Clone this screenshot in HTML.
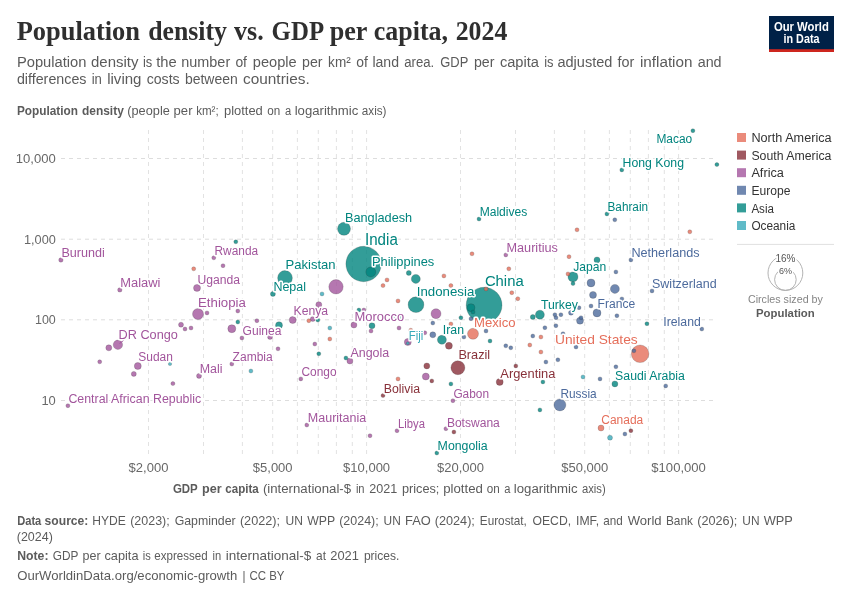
<!DOCTYPE html>
<html lang="en"><head><meta charset="utf-8">
<title>Population density vs. GDP per capita, 2024</title>
<style>
html,body{margin:0;padding:0;background:#fff;}
body{width:850px;height:600px;overflow:hidden;}
svg{display:block;font-family:"Liberation Sans",sans-serif;}
.title{font-family:"Liberation Serif","DejaVu Serif",serif;font-weight:bold;font-size:26.5px;fill:#2f2f2f;}
.sub{font-size:14px;fill:#5b5b5b;}
.ax{font-size:12.5px;fill:#5b5b5b;}
.tick{font-size:13.4px;fill:#686868;}
.foot{font-size:13px;fill:#5b5b5b;}
.b{font-weight:bold;}
.grid{stroke:#ddd;stroke-width:1;stroke-dasharray:4,4;fill:none;}
.lab{paint-order:stroke;stroke:#fff;stroke-width:3px;stroke-linejoin:round;}
.leg{font-size:12px;fill:#333;}
</style></head><body>
<svg width="850" height="600" viewBox="0 0 850 600">
<rect width="850" height="600" fill="#fff"/>
<text class="title" y="40"><tspan x="16.7" textLength="123.3" lengthAdjust="spacingAndGlyphs">Population</tspan> <tspan x="148.2" textLength="78.8" lengthAdjust="spacingAndGlyphs">density</tspan> <tspan x="234.1" textLength="29.7" lengthAdjust="spacingAndGlyphs">vs.</tspan> <tspan x="271.6" textLength="51.1" lengthAdjust="spacingAndGlyphs">GDP</tspan> <tspan x="329.7" textLength="37.3" lengthAdjust="spacingAndGlyphs">per</tspan> <tspan x="373.8" textLength="74.2" lengthAdjust="spacingAndGlyphs">capita,</tspan> <tspan x="455.7" textLength="51.6" lengthAdjust="spacingAndGlyphs">2024</tspan></text>
<text class="sub" y="66.5"><tspan x="16.9" textLength="69.6" lengthAdjust="spacingAndGlyphs">Population</tspan> <tspan x="91.0" textLength="47.4" lengthAdjust="spacingAndGlyphs">density</tspan> <tspan x="143.0" textLength="9.3" lengthAdjust="spacingAndGlyphs">is</tspan> <tspan x="156.2" textLength="20.5" lengthAdjust="spacingAndGlyphs">the</tspan> <tspan x="181.3" textLength="48.9" lengthAdjust="spacingAndGlyphs">number</tspan> <tspan x="235.4" textLength="11.6" lengthAdjust="spacingAndGlyphs">of</tspan> <tspan x="252.8" textLength="43.8" lengthAdjust="spacingAndGlyphs">people</tspan> <tspan x="302.1" textLength="20.5" lengthAdjust="spacingAndGlyphs">per</tspan> <tspan x="328.1" textLength="22.6" lengthAdjust="spacingAndGlyphs">km²</tspan> <tspan x="356.2" textLength="11.6" lengthAdjust="spacingAndGlyphs">of</tspan> <tspan x="372.4" textLength="26.6" lengthAdjust="spacingAndGlyphs">land</tspan> <tspan x="404.2" textLength="30.0" lengthAdjust="spacingAndGlyphs">area.</tspan> <tspan x="440.3" textLength="27.8" lengthAdjust="spacingAndGlyphs">GDP</tspan> <tspan x="473.9" textLength="20.5" lengthAdjust="spacingAndGlyphs">per</tspan> <tspan x="499.9" textLength="39.1" lengthAdjust="spacingAndGlyphs">capita</tspan> <tspan x="544.2" textLength="9.3" lengthAdjust="spacingAndGlyphs">is</tspan> <tspan x="557.4" textLength="55.0" lengthAdjust="spacingAndGlyphs">adjusted</tspan> <tspan x="617.6" textLength="16.8" lengthAdjust="spacingAndGlyphs">for</tspan> <tspan x="639.9" textLength="52.6" lengthAdjust="spacingAndGlyphs">inflation</tspan> <tspan x="697.7" textLength="23.9" lengthAdjust="spacingAndGlyphs">and</tspan></text>
<text class="sub" y="84.4"><tspan x="16.9" textLength="69.6" lengthAdjust="spacingAndGlyphs">differences</tspan> <tspan x="91.7" textLength="10.2" lengthAdjust="spacingAndGlyphs">in</tspan> <tspan x="107.2" textLength="34.3" lengthAdjust="spacingAndGlyphs">living</tspan> <tspan x="146.7" textLength="33.0" lengthAdjust="spacingAndGlyphs">costs</tspan> <tspan x="184.9" textLength="52.9" lengthAdjust="spacingAndGlyphs">between</tspan> <tspan x="243.0" textLength="66.7" lengthAdjust="spacingAndGlyphs">countries.</tspan></text>
<text class="ax" y="114.6"><tspan class="b" x="16.9" textLength="61.0" lengthAdjust="spacingAndGlyphs">Population</tspan> <tspan class="b" x="82.0" textLength="41.8" lengthAdjust="spacingAndGlyphs">density</tspan> <tspan x="127.3" textLength="42.5" lengthAdjust="spacingAndGlyphs">(people</tspan> <tspan x="173.6" textLength="18.9" lengthAdjust="spacingAndGlyphs">per</tspan> <tspan x="196.2" textLength="22.5" lengthAdjust="spacingAndGlyphs">km²;</tspan> <tspan x="224.0" textLength="38.8" lengthAdjust="spacingAndGlyphs">plotted</tspan> <tspan x="267.3" textLength="13.0" lengthAdjust="spacingAndGlyphs">on</tspan> <tspan x="285.0" textLength="6.2" lengthAdjust="spacingAndGlyphs">a</tspan> <tspan x="294.7" textLength="63.6" lengthAdjust="spacingAndGlyphs">logarithmic</tspan> <tspan x="361.8" textLength="24.7" lengthAdjust="spacingAndGlyphs">axis)</tspan></text>
<rect x="769" y="16" width="65" height="36" fill="#002147"/>
<rect x="769" y="49.2" width="65" height="2.8" fill="#CE261E"/>
<text x="801.4" y="30.6" text-anchor="middle" font-size="12.2" font-weight="bold" fill="#fff" textLength="55" lengthAdjust="spacingAndGlyphs">Our World</text>
<text x="801.5" y="42.6" text-anchor="middle" font-size="12.2" font-weight="bold" fill="#fff" textLength="36" lengthAdjust="spacingAndGlyphs">in Data</text>
<g class="grid">
<line x1="61" y1="158.5" x2="717" y2="158.5"/>
<line x1="61" y1="239.2" x2="717" y2="239.2"/>
<line x1="61" y1="319.8" x2="717" y2="319.8"/>
<line x1="61" y1="400.5" x2="717" y2="400.5"/>
<line x1="148.5" y1="130" x2="148.5" y2="454" stroke="#e2e2e2"/>
<line x1="203.5" y1="130" x2="203.5" y2="454" stroke="#e2e2e2"/>
<line x1="242.4" y1="130" x2="242.4" y2="454" stroke="#e2e2e2"/>
<line x1="272.7" y1="130" x2="272.7" y2="454" stroke="#e2e2e2"/>
<line x1="297.4" y1="130" x2="297.4" y2="454" stroke="#e2e2e2"/>
<line x1="318.3" y1="130" x2="318.3" y2="454" stroke="#e2e2e2"/>
<line x1="336.4" y1="130" x2="336.4" y2="454" stroke="#e2e2e2"/>
<line x1="352.3" y1="130" x2="352.3" y2="454" stroke="#e2e2e2"/>
<line x1="366.6" y1="130" x2="366.6" y2="454" stroke="#e2e2e2"/>
<line x1="460.5" y1="130" x2="460.5" y2="454" stroke="#e2e2e2"/>
<line x1="515.5" y1="130" x2="515.5" y2="454" stroke="#e2e2e2"/>
<line x1="554.4" y1="130" x2="554.4" y2="454" stroke="#e2e2e2"/>
<line x1="584.7" y1="130" x2="584.7" y2="454" stroke="#e2e2e2"/>
<line x1="609.4" y1="130" x2="609.4" y2="454" stroke="#e2e2e2"/>
<line x1="630.3" y1="130" x2="630.3" y2="454" stroke="#e2e2e2"/>
<line x1="648.4" y1="130" x2="648.4" y2="454" stroke="#e2e2e2"/>
<line x1="664.3" y1="130" x2="664.3" y2="454" stroke="#e2e2e2"/>
<line x1="678.6" y1="130" x2="678.6" y2="454" stroke="#e2e2e2"/>
</g>
<text class="tick" x="15.8" y="163.1" textLength="40" lengthAdjust="spacingAndGlyphs">10,000</text>
<text class="tick" x="24.0" y="243.8" textLength="31.8" lengthAdjust="spacingAndGlyphs">1,000</text>
<text class="tick" x="35.0" y="324.4" textLength="20.8" lengthAdjust="spacingAndGlyphs">100</text>
<text class="tick" x="41.4" y="405.1" textLength="14.4" lengthAdjust="spacingAndGlyphs">10</text>
<text class="tick" x="128.6" y="471.7" textLength="39.8" lengthAdjust="spacingAndGlyphs">$2,000</text>
<text class="tick" x="252.8" y="471.7" textLength="39.8" lengthAdjust="spacingAndGlyphs">$5,000</text>
<text class="tick" x="343.1" y="471.7" textLength="47" lengthAdjust="spacingAndGlyphs">$10,000</text>
<text class="tick" x="437.0" y="471.7" textLength="47" lengthAdjust="spacingAndGlyphs">$20,000</text>
<text class="tick" x="561.2" y="471.7" textLength="47" lengthAdjust="spacingAndGlyphs">$50,000</text>
<text class="tick" x="651.3" y="471.7" textLength="54.6" lengthAdjust="spacingAndGlyphs">$100,000</text>
<text class="ax" y="492.8"><tspan class="b" x="172.9" textLength="24.9" lengthAdjust="spacingAndGlyphs">GDP</tspan> <tspan class="b" x="202.0" textLength="19.6" lengthAdjust="spacingAndGlyphs">per</tspan> <tspan class="b" x="225.3" textLength="33.4" lengthAdjust="spacingAndGlyphs">capita</tspan> <tspan x="262.9" textLength="88.2" lengthAdjust="spacingAndGlyphs">(international-$</tspan> <tspan x="355.9" textLength="8.7" lengthAdjust="spacingAndGlyphs">in</tspan> <tspan x="369.2" textLength="28.0" lengthAdjust="spacingAndGlyphs">2021</tspan> <tspan x="401.9" textLength="37.5" lengthAdjust="spacingAndGlyphs">prices;</tspan> <tspan x="443.2" textLength="39.7" lengthAdjust="spacingAndGlyphs">plotted</tspan> <tspan x="486.8" textLength="13.0" lengthAdjust="spacingAndGlyphs">on</tspan> <tspan x="504.2" textLength="6.2" lengthAdjust="spacingAndGlyphs">a</tspan> <tspan x="513.8" textLength="63.8" lengthAdjust="spacingAndGlyphs">logarithmic</tspan> <tspan x="582.0" textLength="23.7" lengthAdjust="spacingAndGlyphs">axis)</tspan></text>
<g stroke="#2a2a2a" stroke-width="0.6" stroke-opacity="0.32">
<circle cx="484.1" cy="305.2" r="17.9" fill="#00847E" fill-opacity="0.8"/>
<circle cx="363.6" cy="264" r="17.7" fill="#00847E" fill-opacity="0.8"/>
<circle cx="640.1" cy="353.8" r="8.8" fill="#E56E5A" fill-opacity="0.8"/>
<circle cx="416" cy="304.7" r="7.9" fill="#00847E" fill-opacity="0.8"/>
<circle cx="285" cy="277.9" r="7.4" fill="#00847E" fill-opacity="0.8"/>
<circle cx="336" cy="286.8" r="7.2" fill="#A2559C" fill-opacity="0.8"/>
<circle cx="457.9" cy="367.7" r="7" fill="#883039" fill-opacity="0.8"/>
<circle cx="344" cy="228.8" r="6.5" fill="#00847E" fill-opacity="0.8"/>
<circle cx="559.9" cy="404.9" r="6" fill="#4C6A9C" fill-opacity="0.8"/>
<circle cx="198" cy="314" r="5.5" fill="#A2559C" fill-opacity="0.8"/>
<circle cx="473" cy="333.8" r="5.5" fill="#E56E5A" fill-opacity="0.8"/>
<circle cx="436" cy="313.7" r="5" fill="#A2559C" fill-opacity="0.8"/>
<circle cx="370.8" cy="272" r="5" fill="#00847E" fill-opacity="0.8"/>
<circle cx="573" cy="276.9" r="5" fill="#00847E" fill-opacity="0.8"/>
<circle cx="117.9" cy="344.8" r="4.7" fill="#A2559C" fill-opacity="0.8"/>
<circle cx="415.8" cy="278.9" r="4.5" fill="#00847E" fill-opacity="0.8"/>
<circle cx="539.9" cy="314.7" r="4.5" fill="#00847E" fill-opacity="0.8"/>
<circle cx="441.9" cy="339.8" r="4.5" fill="#00847E" fill-opacity="0.8"/>
<circle cx="614.9" cy="288.9" r="4.5" fill="#4C6A9C" fill-opacity="0.8"/>
<circle cx="231.8" cy="328.7" r="4" fill="#A2559C" fill-opacity="0.8"/>
<circle cx="471" cy="307.7" r="4" fill="#00847E" fill-opacity="0.8"/>
<circle cx="591" cy="282.9" r="4" fill="#4C6A9C" fill-opacity="0.8"/>
<circle cx="597" cy="312.9" r="4" fill="#4C6A9C" fill-opacity="0.8"/>
<circle cx="197" cy="287.9" r="3.5" fill="#A2559C" fill-opacity="0.8"/>
<circle cx="137.8" cy="366" r="3.5" fill="#A2559C" fill-opacity="0.8"/>
<circle cx="292.7" cy="320" r="3.5" fill="#A2559C" fill-opacity="0.8"/>
<circle cx="407.8" cy="342" r="3.5" fill="#A2559C" fill-opacity="0.8"/>
<circle cx="425.8" cy="376.5" r="3.5" fill="#A2559C" fill-opacity="0.8"/>
<circle cx="279" cy="325.2" r="3.5" fill="#00847E" fill-opacity="0.8"/>
<circle cx="448.9" cy="345.8" r="3.5" fill="#883039" fill-opacity="0.8"/>
<circle cx="499.7" cy="381.9" r="3.5" fill="#883039" fill-opacity="0.8"/>
<circle cx="593" cy="294.9" r="3.5" fill="#4C6A9C" fill-opacity="0.8"/>
<circle cx="580" cy="320.7" r="3.5" fill="#4C6A9C" fill-opacity="0.8"/>
<circle cx="108.8" cy="347.8" r="3" fill="#A2559C" fill-opacity="0.8"/>
<circle cx="318.8" cy="304.7" r="3" fill="#A2559C" fill-opacity="0.8"/>
<circle cx="353.9" cy="325" r="3" fill="#A2559C" fill-opacity="0.8"/>
<circle cx="349.9" cy="361" r="3" fill="#A2559C" fill-opacity="0.8"/>
<circle cx="372" cy="325.7" r="3" fill="#00847E" fill-opacity="0.8"/>
<circle cx="597" cy="259.9" r="3" fill="#00847E" fill-opacity="0.8"/>
<circle cx="614.9" cy="383.9" r="3" fill="#00847E" fill-opacity="0.8"/>
<circle cx="601" cy="428" r="3" fill="#E56E5A" fill-opacity="0.8"/>
<circle cx="426.8" cy="365.9" r="3" fill="#883039" fill-opacity="0.8"/>
<circle cx="432.8" cy="334.8" r="3" fill="#4C6A9C" fill-opacity="0.8"/>
<circle cx="181" cy="324.7" r="2.5" fill="#A2559C" fill-opacity="0.8"/>
<circle cx="133.8" cy="373.9" r="2.5" fill="#A2559C" fill-opacity="0.8"/>
<circle cx="199" cy="375.9" r="2.5" fill="#A2559C" fill-opacity="0.8"/>
<circle cx="270" cy="336.9" r="2.5" fill="#A2559C" fill-opacity="0.8"/>
<circle cx="312.8" cy="319" r="2.5" fill="#A2559C" fill-opacity="0.8"/>
<circle cx="272.9" cy="293.9" r="2.5" fill="#00847E" fill-opacity="0.8"/>
<circle cx="408.8" cy="272.9" r="2.5" fill="#00847E" fill-opacity="0.8"/>
<circle cx="532.8" cy="317" r="2.5" fill="#00847E" fill-opacity="0.8"/>
<circle cx="571" cy="312.7" r="2.5" fill="#4C6A9C" fill-opacity="0.8"/>
<circle cx="610" cy="437.7" r="2.5" fill="#38AABA" fill-opacity="0.8"/>
<circle cx="60.9" cy="260" r="2.2" fill="#A2559C" fill-opacity="0.8"/>
<circle cx="119.8" cy="289.9" r="2.2" fill="#A2559C" fill-opacity="0.8"/>
<circle cx="207" cy="312.9" r="2.0" fill="#A2559C" fill-opacity="0.8"/>
<circle cx="185" cy="329" r="2.0" fill="#A2559C" fill-opacity="0.8"/>
<circle cx="191" cy="328" r="2.0" fill="#A2559C" fill-opacity="0.8"/>
<circle cx="99.7" cy="361.8" r="2.0" fill="#A2559C" fill-opacity="0.8"/>
<circle cx="213.8" cy="257.8" r="2.0" fill="#A2559C" fill-opacity="0.8"/>
<circle cx="223" cy="265.7" r="2.0" fill="#A2559C" fill-opacity="0.8"/>
<circle cx="67.9" cy="405.7" r="2.0" fill="#A2559C" fill-opacity="0.8"/>
<circle cx="172.9" cy="383.6" r="2.0" fill="#A2559C" fill-opacity="0.8"/>
<circle cx="237.8" cy="311" r="2.0" fill="#A2559C" fill-opacity="0.8"/>
<circle cx="256.9" cy="320.7" r="2.0" fill="#A2559C" fill-opacity="0.8"/>
<circle cx="241.9" cy="338" r="2.0" fill="#A2559C" fill-opacity="0.8"/>
<circle cx="363.9" cy="310" r="2.0" fill="#A2559C" fill-opacity="0.8"/>
<circle cx="371" cy="331" r="2.0" fill="#A2559C" fill-opacity="0.8"/>
<circle cx="399" cy="328" r="2.0" fill="#A2559C" fill-opacity="0.8"/>
<circle cx="314.8" cy="344" r="2.0" fill="#A2559C" fill-opacity="0.8"/>
<circle cx="278" cy="348.8" r="2.0" fill="#A2559C" fill-opacity="0.8"/>
<circle cx="231.8" cy="364" r="2.0" fill="#A2559C" fill-opacity="0.8"/>
<circle cx="300.8" cy="378.9" r="2.0" fill="#A2559C" fill-opacity="0.8"/>
<circle cx="306.8" cy="425" r="2.0" fill="#A2559C" fill-opacity="0.8"/>
<circle cx="370" cy="435.7" r="2.0" fill="#A2559C" fill-opacity="0.8"/>
<circle cx="397" cy="430.7" r="2.0" fill="#A2559C" fill-opacity="0.8"/>
<circle cx="505.8" cy="254.9" r="2.0" fill="#A2559C" fill-opacity="0.8"/>
<circle cx="424.8" cy="332.8" r="2.0" fill="#A2559C" fill-opacity="0.8"/>
<circle cx="452.9" cy="400.7" r="2.0" fill="#A2559C" fill-opacity="0.8"/>
<circle cx="445.9" cy="428.7" r="2.0" fill="#A2559C" fill-opacity="0.8"/>
<circle cx="235.8" cy="241.8" r="2.0" fill="#00847E" fill-opacity="0.8"/>
<circle cx="237.8" cy="322" r="2.0" fill="#00847E" fill-opacity="0.8"/>
<circle cx="317.8" cy="320" r="2.0" fill="#00847E" fill-opacity="0.8"/>
<circle cx="358.9" cy="310" r="2.0" fill="#00847E" fill-opacity="0.8"/>
<circle cx="318.8" cy="353.8" r="2.0" fill="#00847E" fill-opacity="0.8"/>
<circle cx="345.9" cy="358" r="2.0" fill="#00847E" fill-opacity="0.8"/>
<circle cx="479" cy="219" r="2.0" fill="#00847E" fill-opacity="0.8"/>
<circle cx="606.9" cy="213.9" r="2.0" fill="#00847E" fill-opacity="0.8"/>
<circle cx="573" cy="283.6" r="2.0" fill="#00847E" fill-opacity="0.8"/>
<circle cx="473" cy="312" r="2.0" fill="#00847E" fill-opacity="0.8"/>
<circle cx="460.9" cy="317.7" r="2.0" fill="#00847E" fill-opacity="0.8"/>
<circle cx="490" cy="341" r="2.0" fill="#00847E" fill-opacity="0.8"/>
<circle cx="450.9" cy="383.9" r="2.0" fill="#00847E" fill-opacity="0.8"/>
<circle cx="542.9" cy="381.9" r="2.0" fill="#00847E" fill-opacity="0.8"/>
<circle cx="539.9" cy="409.9" r="2.0" fill="#00847E" fill-opacity="0.8"/>
<circle cx="436.8" cy="453" r="2.0" fill="#00847E" fill-opacity="0.8"/>
<circle cx="692.9" cy="130.7" r="2.0" fill="#00847E" fill-opacity="0.8"/>
<circle cx="716.9" cy="164.6" r="2.0" fill="#00847E" fill-opacity="0.8"/>
<circle cx="621.8" cy="169.9" r="2.0" fill="#00847E" fill-opacity="0.8"/>
<circle cx="646.9" cy="323.7" r="2.0" fill="#00847E" fill-opacity="0.8"/>
<circle cx="193.7" cy="268.8" r="2.0" fill="#E56E5A" fill-opacity="0.8"/>
<circle cx="387" cy="279.9" r="2.0" fill="#E56E5A" fill-opacity="0.8"/>
<circle cx="383" cy="285.6" r="2.0" fill="#E56E5A" fill-opacity="0.8"/>
<circle cx="398" cy="300.9" r="2.0" fill="#E56E5A" fill-opacity="0.8"/>
<circle cx="308.8" cy="320.7" r="2.0" fill="#E56E5A" fill-opacity="0.8"/>
<circle cx="329.8" cy="339" r="2.0" fill="#E56E5A" fill-opacity="0.8"/>
<circle cx="398" cy="378.9" r="2.0" fill="#E56E5A" fill-opacity="0.8"/>
<circle cx="577" cy="229.8" r="2.0" fill="#E56E5A" fill-opacity="0.8"/>
<circle cx="472" cy="253.8" r="2.0" fill="#E56E5A" fill-opacity="0.8"/>
<circle cx="569" cy="256.7" r="2.0" fill="#E56E5A" fill-opacity="0.8"/>
<circle cx="508.8" cy="268.8" r="2.0" fill="#E56E5A" fill-opacity="0.8"/>
<circle cx="443.9" cy="275.9" r="2.0" fill="#E56E5A" fill-opacity="0.8"/>
<circle cx="450.9" cy="285.6" r="2.0" fill="#E56E5A" fill-opacity="0.8"/>
<circle cx="486" cy="288.9" r="2.0" fill="#E56E5A" fill-opacity="0.8"/>
<circle cx="511.8" cy="292.7" r="2.0" fill="#E56E5A" fill-opacity="0.8"/>
<circle cx="517.8" cy="298.7" r="2.0" fill="#E56E5A" fill-opacity="0.8"/>
<circle cx="568" cy="273.9" r="2.0" fill="#E56E5A" fill-opacity="0.8"/>
<circle cx="450.9" cy="324" r="2.0" fill="#E56E5A" fill-opacity="0.8"/>
<circle cx="540.9" cy="337" r="2.0" fill="#E56E5A" fill-opacity="0.8"/>
<circle cx="529.8" cy="345" r="2.0" fill="#E56E5A" fill-opacity="0.8"/>
<circle cx="540.9" cy="352" r="2.0" fill="#E56E5A" fill-opacity="0.8"/>
<circle cx="689.8" cy="231.8" r="2.0" fill="#E56E5A" fill-opacity="0.8"/>
<circle cx="410.8" cy="330.2" r="2" fill="#E56E5A" fill-opacity="0.8"/>
<circle cx="383" cy="395.6" r="2.0" fill="#883039" fill-opacity="0.8"/>
<circle cx="515.8" cy="365.9" r="2.0" fill="#883039" fill-opacity="0.8"/>
<circle cx="431.8" cy="380.9" r="2.0" fill="#883039" fill-opacity="0.8"/>
<circle cx="453.9" cy="432" r="2.0" fill="#883039" fill-opacity="0.8"/>
<circle cx="630.9" cy="430.7" r="2.0" fill="#883039" fill-opacity="0.8"/>
<circle cx="554.9" cy="314.7" r="2.0" fill="#4C6A9C" fill-opacity="0.8"/>
<circle cx="560.9" cy="314.7" r="2.0" fill="#4C6A9C" fill-opacity="0.8"/>
<circle cx="556" cy="317.7" r="2.0" fill="#4C6A9C" fill-opacity="0.8"/>
<circle cx="579" cy="307.7" r="2.0" fill="#4C6A9C" fill-opacity="0.8"/>
<circle cx="591" cy="306" r="2.0" fill="#4C6A9C" fill-opacity="0.8"/>
<circle cx="581" cy="317.7" r="2.0" fill="#4C6A9C" fill-opacity="0.8"/>
<circle cx="544.9" cy="327.7" r="2.0" fill="#4C6A9C" fill-opacity="0.8"/>
<circle cx="555.9" cy="325.7" r="2.0" fill="#4C6A9C" fill-opacity="0.8"/>
<circle cx="532.8" cy="336" r="2.0" fill="#4C6A9C" fill-opacity="0.8"/>
<circle cx="505.8" cy="345.8" r="2.0" fill="#4C6A9C" fill-opacity="0.8"/>
<circle cx="510.8" cy="347.8" r="2.0" fill="#4C6A9C" fill-opacity="0.8"/>
<circle cx="545.9" cy="362" r="2.0" fill="#4C6A9C" fill-opacity="0.8"/>
<circle cx="557.9" cy="359.8" r="2.0" fill="#4C6A9C" fill-opacity="0.8"/>
<circle cx="576" cy="347" r="2.0" fill="#4C6A9C" fill-opacity="0.8"/>
<circle cx="563" cy="333.7" r="2.0" fill="#4C6A9C" fill-opacity="0.8"/>
<circle cx="471" cy="318.7" r="2.0" fill="#4C6A9C" fill-opacity="0.8"/>
<circle cx="432.8" cy="323" r="2.0" fill="#4C6A9C" fill-opacity="0.8"/>
<circle cx="486" cy="331" r="2.0" fill="#4C6A9C" fill-opacity="0.8"/>
<circle cx="463.9" cy="337" r="2.0" fill="#4C6A9C" fill-opacity="0.8"/>
<circle cx="600" cy="378.9" r="2.0" fill="#4C6A9C" fill-opacity="0.8"/>
<circle cx="614.8" cy="219.8" r="2.0" fill="#4C6A9C" fill-opacity="0.8"/>
<circle cx="630.9" cy="259.9" r="2.0" fill="#4C6A9C" fill-opacity="0.8"/>
<circle cx="615.9" cy="271.9" r="2.0" fill="#4C6A9C" fill-opacity="0.8"/>
<circle cx="621.9" cy="298.9" r="2.0" fill="#4C6A9C" fill-opacity="0.8"/>
<circle cx="616.9" cy="315.7" r="2.0" fill="#4C6A9C" fill-opacity="0.8"/>
<circle cx="652" cy="290.9" r="2.0" fill="#4C6A9C" fill-opacity="0.8"/>
<circle cx="701.8" cy="329" r="2.0" fill="#4C6A9C" fill-opacity="0.8"/>
<circle cx="633.9" cy="350.8" r="2.0" fill="#4C6A9C" fill-opacity="0.8"/>
<circle cx="615.9" cy="366.8" r="2.0" fill="#4C6A9C" fill-opacity="0.8"/>
<circle cx="665.7" cy="385.9" r="2.0" fill="#4C6A9C" fill-opacity="0.8"/>
<circle cx="624.9" cy="434" r="2.0" fill="#4C6A9C" fill-opacity="0.8"/>
<circle cx="322" cy="293.9" r="2.0" fill="#38AABA" fill-opacity="0.8"/>
<circle cx="329.8" cy="328" r="2.0" fill="#38AABA" fill-opacity="0.8"/>
<circle cx="250.9" cy="371" r="2.0" fill="#38AABA" fill-opacity="0.8"/>
<circle cx="583" cy="376.9" r="2.0" fill="#38AABA" fill-opacity="0.8"/>
<circle cx="395.4" cy="317.5" r="1.8" fill="#00847E" fill-opacity="0.8"/>
<circle cx="400.8" cy="317.5" r="1.8" fill="#00847E" fill-opacity="0.8"/>
<circle cx="170" cy="363.9" r="1.7" fill="#38AABA" fill-opacity="0.8"/>
<circle cx="692.3" cy="286" r="1.5" fill="#00847E" fill-opacity="0.8"/>
<circle cx="407.8" cy="343.2" r="1.5" fill="#38AABA" fill-opacity="0.8"/>
</g>
<line x1="119.6" y1="343.4" x2="123.6" y2="340.4" stroke="#A2559C" stroke-width="1"/>
<g class="labs">
<text class="lab" x="61.4" y="256.7" font-size="12" fill="#A2559C" textLength="43.4" lengthAdjust="spacingAndGlyphs">Burundi</text>
<text class="lab" x="120.3" y="286.7" font-size="12" fill="#A2559C" textLength="40.1" lengthAdjust="spacingAndGlyphs">Malawi</text>
<text class="lab" x="118.5" y="338.9" font-size="12.5" fill="#A2559C" textLength="59.4" lengthAdjust="spacingAndGlyphs">DR Congo</text>
<text class="lab" x="138.3" y="361.2" font-size="12.0" fill="#A2559C" textLength="34.6" lengthAdjust="spacingAndGlyphs">Sudan</text>
<text class="lab" x="68.4" y="403.2" font-size="12" fill="#A2559C" textLength="132.8" lengthAdjust="spacingAndGlyphs">Central African Republic</text>
<text class="lab" x="214.5" y="255.0" font-size="12" fill="#A2559C" textLength="43.6" lengthAdjust="spacingAndGlyphs">Rwanda</text>
<text class="lab" x="197.5" y="284.1" font-size="12.0" fill="#A2559C" textLength="42.6" lengthAdjust="spacingAndGlyphs">Uganda</text>
<text class="lab" x="198.0" y="307.3" font-size="12.5" fill="#A2559C" textLength="47.9" lengthAdjust="spacingAndGlyphs">Ethiopia</text>
<text class="lab" x="293.5" y="315.3" font-size="12.0" fill="#A2559C" textLength="34.6" lengthAdjust="spacingAndGlyphs">Kenya</text>
<text class="lab" x="354.6" y="321.0" font-size="12.0" fill="#A2559C" textLength="49.6" lengthAdjust="spacingAndGlyphs">Morocco</text>
<text class="lab" x="242.6" y="335.0" font-size="12" fill="#A2559C" textLength="38.8" lengthAdjust="spacingAndGlyphs">Guinea</text>
<text class="lab" x="232.6" y="360.9" font-size="12.0" fill="#A2559C" textLength="40.1" lengthAdjust="spacingAndGlyphs">Zambia</text>
<text class="lab" x="350.4" y="356.6" font-size="12.0" fill="#A2559C" textLength="38.8" lengthAdjust="spacingAndGlyphs">Angola</text>
<text class="lab" x="301.5" y="376.3" font-size="12.0" fill="#A2559C" textLength="35.1" lengthAdjust="spacingAndGlyphs">Congo</text>
<text class="lab" x="199.7" y="372.6" font-size="12.0" fill="#A2559C" textLength="22.8" lengthAdjust="spacingAndGlyphs">Mali</text>
<text class="lab" x="307.8" y="422.0" font-size="12" fill="#A2559C" textLength="58.4" lengthAdjust="spacingAndGlyphs">Mauritania</text>
<text class="lab" x="398.0" y="428.0" font-size="12.0" fill="#A2559C" textLength="27.0" lengthAdjust="spacingAndGlyphs">Libya</text>
<text class="lab" x="506.5" y="252.0" font-size="12" fill="#A2559C" textLength="51.4" lengthAdjust="spacingAndGlyphs">Mauritius</text>
<text class="lab" x="453.4" y="398.2" font-size="12" fill="#A2559C" textLength="35.6" lengthAdjust="spacingAndGlyphs">Gabon</text>
<text class="lab" x="446.9" y="426.6" font-size="12.0" fill="#A2559C" textLength="52.9" lengthAdjust="spacingAndGlyphs">Botswana</text>
<text class="lab" x="344.9" y="221.5" font-size="12.8" fill="#00847E" textLength="67.3" lengthAdjust="spacingAndGlyphs">Bangladesh</text>
<text class="lab" x="365.0" y="244.8" font-size="15.8" fill="#00847E" textLength="32.8" lengthAdjust="spacingAndGlyphs">India</text>
<text class="lab" x="372.0" y="265.7" font-size="12.75" fill="#00847E" textLength="62.3" lengthAdjust="spacingAndGlyphs">Philippines</text>
<text class="lab" x="285.5" y="269.1" font-size="13.5" fill="#00847E" textLength="50.1" lengthAdjust="spacingAndGlyphs">Pakistan</text>
<text class="lab" x="273.4" y="290.5" font-size="12.0" fill="#00847E" textLength="32.6" lengthAdjust="spacingAndGlyphs">Nepal</text>
<text class="lab" x="479.7" y="216.0" font-size="12.0" fill="#00847E" textLength="47.6" lengthAdjust="spacingAndGlyphs">Maldives</text>
<text class="lab" x="573.3" y="270.7" font-size="13.2" fill="#00847E" textLength="33.0" lengthAdjust="spacingAndGlyphs">Japan</text>
<text class="lab" x="484.9" y="285.5" font-size="15.2" fill="#00847E" textLength="38.8" lengthAdjust="spacingAndGlyphs">China</text>
<text class="lab" x="416.8" y="295.8" font-size="13" fill="#00847E" textLength="57.5" lengthAdjust="spacingAndGlyphs">Indonesia</text>
<text class="lab" x="540.9" y="309.2" font-size="12.0" fill="#00847E" textLength="37.1" lengthAdjust="spacingAndGlyphs">Turkey</text>
<text class="lab" x="442.8" y="334.2" font-size="12" fill="#00847E" textLength="21.2" lengthAdjust="spacingAndGlyphs">Iran</text>
<text class="lab" x="437.6" y="450.2" font-size="12" fill="#00847E" textLength="50.1" lengthAdjust="spacingAndGlyphs">Mongolia</text>
<text class="lab" x="656.4" y="143.2" font-size="12.0" fill="#00847E" textLength="35.8" lengthAdjust="spacingAndGlyphs">Macao</text>
<text class="lab" x="622.6" y="167.2" font-size="12.0" fill="#00847E" textLength="61.4" lengthAdjust="spacingAndGlyphs">Hong Kong</text>
<text class="lab" x="607.5" y="211.2" font-size="12" fill="#00847E" textLength="40.6" lengthAdjust="spacingAndGlyphs">Bahrain</text>
<text class="lab" x="615.1" y="380.1" font-size="12.5" fill="#00847E" textLength="69.7" lengthAdjust="spacingAndGlyphs">Saudi Arabia</text>
<text class="lab" x="474" y="327.1" font-size="12" fill="#E56E5A" textLength="41.6" lengthAdjust="spacingAndGlyphs">Mexico</text>
<text class="lab" x="555.0" y="343.7" font-size="13.5" fill="#E56E5A" textLength="82.7" lengthAdjust="spacingAndGlyphs">United States</text>
<text class="lab" x="601.3" y="424.0" font-size="12" fill="#E56E5A" textLength="41.9" lengthAdjust="spacingAndGlyphs">Canada</text>
<text class="lab" x="383.7" y="392.7" font-size="12" fill="#883039" textLength="36.3" lengthAdjust="spacingAndGlyphs">Bolivia</text>
<text class="lab" x="458.4" y="359.1" font-size="13.0" fill="#883039" textLength="31.8" lengthAdjust="spacingAndGlyphs">Brazil</text>
<text class="lab" x="500.3" y="377.7" font-size="12" fill="#883039" textLength="55.1" lengthAdjust="spacingAndGlyphs">Argentina</text>
<text class="lab" x="560.4" y="397.9" font-size="13.0" fill="#4C6A9C" textLength="36.3" lengthAdjust="spacingAndGlyphs">Russia</text>
<text class="lab" x="631.4" y="257.0" font-size="12" fill="#4C6A9C" textLength="68.2" lengthAdjust="spacingAndGlyphs">Netherlands</text>
<text class="lab" x="652.0" y="288.2" font-size="12.0" fill="#4C6A9C" textLength="64.6" lengthAdjust="spacingAndGlyphs">Switzerland</text>
<text class="lab" x="597.6" y="308.0" font-size="12" fill="#4C6A9C" textLength="37.6" lengthAdjust="spacingAndGlyphs">France</text>
<text class="lab" x="663.3" y="326.2" font-size="12.0" fill="#4C6A9C" textLength="37.5" lengthAdjust="spacingAndGlyphs">Ireland</text>
<text class="lab" x="408.8" y="340.0" font-size="12" fill="#38AABA" textLength="14.5" lengthAdjust="spacingAndGlyphs">Fiji</text>
</g>
<rect x="737" y="133.0" width="9" height="9" fill="#E56E5A" fill-opacity="0.8"/>
<text class="leg" x="751.4" y="142.1" textLength="80.2" lengthAdjust="spacingAndGlyphs">North America</text>
<rect x="737" y="150.6" width="9" height="9" fill="#883039" fill-opacity="0.8"/>
<text class="leg" x="751.4" y="159.7" textLength="80.0" lengthAdjust="spacingAndGlyphs">South America</text>
<rect x="737" y="168.2" width="9" height="9" fill="#A2559C" fill-opacity="0.8"/>
<text class="leg" x="751.4" y="177.3" textLength="32.5" lengthAdjust="spacingAndGlyphs">Africa</text>
<rect x="737" y="185.8" width="9" height="9" fill="#4C6A9C" fill-opacity="0.8"/>
<text class="leg" x="751.4" y="194.9" textLength="39" lengthAdjust="spacingAndGlyphs">Europe</text>
<rect x="737" y="203.4" width="9" height="9" fill="#00847E" fill-opacity="0.8"/>
<text class="leg" x="751.4" y="212.5" textLength="22.5" lengthAdjust="spacingAndGlyphs">Asia</text>
<rect x="737" y="221.0" width="9" height="9" fill="#38AABA" fill-opacity="0.8"/>
<text class="leg" x="751.4" y="230.1" textLength="44" lengthAdjust="spacingAndGlyphs">Oceania</text>
<line x1="737" y1="244.4" x2="834" y2="244.4" stroke="#e0e0e0" stroke-width="1"/>
<circle cx="785.4" cy="273" r="17.4" fill="none" stroke="#aaa" stroke-width="0.9"/>
<circle cx="785.4" cy="279.6" r="10.8" fill="none" stroke="#aaa" stroke-width="0.9"/>
<text class="lab" x="785.4" y="262.1" text-anchor="middle" font-size="10" fill="#555">16%</text>
<text class="lab" x="785.4" y="274" text-anchor="middle" font-size="9" fill="#555">6%</text>
<text x="785.4" y="303.4" text-anchor="middle" font-size="11.5" fill="#858585" textLength="75" lengthAdjust="spacingAndGlyphs">Circles sized by</text>
<text x="785.4" y="317" text-anchor="middle" font-size="11.5" font-weight="bold" fill="#5b5b5b" textLength="58.7" lengthAdjust="spacingAndGlyphs">Population</text>
<text class="foot" y="525"><tspan class="b" x="17.2" textLength="24.1" lengthAdjust="spacingAndGlyphs">Data</tspan> <tspan class="b" x="44.6" textLength="43.8" lengthAdjust="spacingAndGlyphs">source:</tspan> <tspan x="92.3" textLength="33.6" lengthAdjust="spacingAndGlyphs">HYDE</tspan> <tspan x="130.2" textLength="39.5" lengthAdjust="spacingAndGlyphs">(2023);</tspan> <tspan x="174.7" textLength="60.9" lengthAdjust="spacingAndGlyphs">Gapminder</tspan> <tspan x="239.9" textLength="40.2" lengthAdjust="spacingAndGlyphs">(2022);</tspan> <tspan x="285.5" textLength="17.4" lengthAdjust="spacingAndGlyphs">UN</tspan> <tspan x="307.2" textLength="27.7" lengthAdjust="spacingAndGlyphs">WPP</tspan> <tspan x="339.2" textLength="39.5" lengthAdjust="spacingAndGlyphs">(2024);</tspan> <tspan x="383.6" textLength="17.2" lengthAdjust="spacingAndGlyphs">UN</tspan> <tspan x="405.0" textLength="25.7" lengthAdjust="spacingAndGlyphs">FAO</tspan> <tspan x="434.7" textLength="40.2" lengthAdjust="spacingAndGlyphs">(2024);</tspan> <tspan x="479.8" textLength="47.1" lengthAdjust="spacingAndGlyphs">Eurostat,</tspan> <tspan x="532.5" textLength="38.6" lengthAdjust="spacingAndGlyphs">OECD,</tspan> <tspan x="576.0" textLength="23.1" lengthAdjust="spacingAndGlyphs">IMF,</tspan> <tspan x="603.3" textLength="19.5" lengthAdjust="spacingAndGlyphs">and</tspan> <tspan x="627.7" textLength="33.9" lengthAdjust="spacingAndGlyphs">World</tspan> <tspan x="665.9" textLength="27.0" lengthAdjust="spacingAndGlyphs">Bank</tspan> <tspan x="697.2" textLength="40.2" lengthAdjust="spacingAndGlyphs">(2026);</tspan> <tspan x="742.3" textLength="17.2" lengthAdjust="spacingAndGlyphs">UN</tspan> <tspan x="763.7" textLength="29.2" lengthAdjust="spacingAndGlyphs">WPP</tspan></text>
<text class="foot" y="540.6"><tspan x="16.8" textLength="36.0" lengthAdjust="spacingAndGlyphs">(2024)</tspan></text>
<text class="foot" y="560.4"><tspan class="b" x="17.2" textLength="31.3" lengthAdjust="spacingAndGlyphs">Note:</tspan> <tspan x="52.8" textLength="25.4" lengthAdjust="spacingAndGlyphs">GDP</tspan> <tspan x="82.5" textLength="18.1" lengthAdjust="spacingAndGlyphs">per</tspan> <tspan x="104.5" textLength="34.0" lengthAdjust="spacingAndGlyphs">capita</tspan> <tspan x="142.7" textLength="8.0" lengthAdjust="spacingAndGlyphs">is</tspan> <tspan x="154.3" textLength="53.3" lengthAdjust="spacingAndGlyphs">expressed</tspan> <tspan x="212.6" textLength="8.7" lengthAdjust="spacingAndGlyphs">in</tspan> <tspan x="225.7" textLength="85.5" lengthAdjust="spacingAndGlyphs">international-$</tspan> <tspan x="316.1" textLength="9.9" lengthAdjust="spacingAndGlyphs">at</tspan> <tspan x="330.3" textLength="28.6" lengthAdjust="spacingAndGlyphs">2021</tspan> <tspan x="363.9" textLength="35.5" lengthAdjust="spacingAndGlyphs">prices.</tspan></text>
<text class="foot" y="580.2"><tspan x="17.2" textLength="220.1" lengthAdjust="spacingAndGlyphs">OurWorldinData.org/economic-growth</tspan> <tspan x="242.6" textLength="3.0" lengthAdjust="spacingAndGlyphs">|</tspan> <tspan x="249.5" textLength="16.6" lengthAdjust="spacingAndGlyphs">CC</tspan> <tspan x="269.2" textLength="15.3" lengthAdjust="spacingAndGlyphs">BY</tspan></text>
</svg></body></html>
